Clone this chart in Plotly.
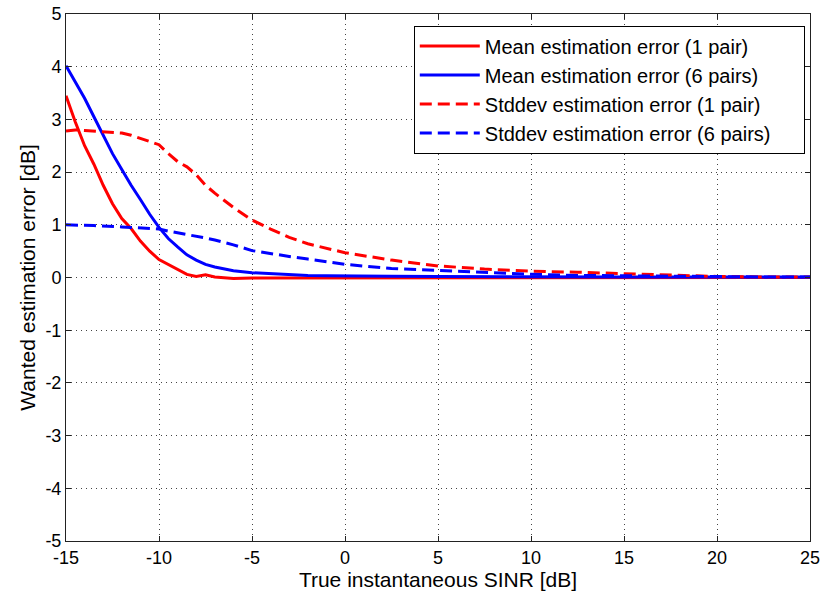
import plotly.graph_objects as go

sinr = [-15, -14.5, -14, -13.5, -13, -12.5, -12, -11.5, -11, -10.5, -10, -9.5, -9, -8.5, -8,
        -7.5, -7, -6, -5, -4, -3, -2, -1, 0, 2.5, 5, 7.5, 10, 12.5, 15, 17.5, 20, 22.5, 25]

mean_1pair = [3.45, 2.95, 2.5, 2.15, 1.75, 1.4, 1.12, 0.93, 0.69, 0.5, 0.34, 0.25, 0.15, 0.06, 0.02,
              0.05, 0.01, -0.02, -0.01, -0.01, 0.0, -0.01, 0.0, 0.0, 0.0, -0.01, 0.0, 0.0, -0.01, 0.0, 0.0, 0.0, 0.0, 0.0]
mean_6pairs = [4.02, 3.7, 3.4, 3.05, 2.7, 2.35, 2.05, 1.75, 1.48, 1.2, 0.95, 0.74, 0.58, 0.43, 0.33,
               0.25, 0.2, 0.13, 0.09, 0.07, 0.05, 0.04, 0.035, 0.03, 0.025, 0.02, 0.015, 0.01, 0.01, 0.01, 0.01, 0.01, 0.01, 0.01]
std_1pair = [2.78, 2.8, 2.79, 2.78, 2.77, 2.76, 2.74, 2.7, 2.64, 2.58, 2.52, 2.35, 2.2, 2.1, 1.95,
             1.75, 1.6, 1.33, 1.09, 0.92, 0.76, 0.64, 0.55, 0.47, 0.33, 0.22, 0.16, 0.12, 0.1, 0.07, 0.04, 0.02, 0.01, 0.01]
std_6pairs = [1.0, 1.0, 0.99, 0.985, 0.98, 0.97, 0.96, 0.95, 0.94, 0.93, 0.92, 0.88, 0.85, 0.82, 0.79,
              0.75, 0.71, 0.62, 0.51, 0.45, 0.4, 0.35, 0.3, 0.25, 0.17, 0.13, 0.09, 0.06, 0.04, 0.03, 0.02, 0.02, 0.01, 0.01]

series_names = ["Mean estimation error (1 pair)", "Mean estimation error (6 pairs)",
                "Stddev estimation error (1 pair)", "Stddev estimation error (6 pairs)"]
x_ticks = [-15, -10, -5, 0, 5, 10, 15, 20, 25]
y_ticks = [-5, -4, -3, -2, -1, 0, 1, 2, 3, 4, 5]

FONT = "Liberation Sans, Arial, Helvetica, sans-serif"
styles = [("#ff0000", "solid"), ("#0000ff", "solid"), ("#ff0000", "12px,6px"), ("#0000ff", "12px,6px")]
data = [mean_1pair, mean_6pairs, std_1pair, std_6pairs]
PAD = "\u00a0" * 5

fig = go.Figure()
for i, (name, ys, (col, dash)) in enumerate(zip(series_names, data, styles)):
    fig.add_trace(go.Scatter(x=sinr, y=ys, mode="lines", name=name + PAD, legendgroup=f"g{i}",
                             line=dict(color=col, width=3, dash=dash)))

axis_common = dict(
    showgrid=True, gridcolor="#444444", griddash="1px,4px", gridwidth=1,
    showline=True, linecolor="#222222", linewidth=1, mirror="ticks",
    ticks="inside", ticklen=5, tickcolor="#222222", zeroline=False,
    tickfont=dict(family=FONT, size=18, color="black"),
)
fig.update_xaxes(range=[-15, 25], tickvals=x_ticks, ticktext=[str(v) for v in x_ticks],
                 title=dict(text="True instantaneous SINR [dB]", font=dict(family=FONT, size=21, color="black"), standoff=2),
                 **axis_common)
fig.update_yaxes(range=[-5, 5], tickvals=y_ticks, ticktext=[str(v) for v in y_ticks],
                 title=dict(text="Wanted estimation error [dB]", font=dict(family=FONT, size=21, color="black"), standoff=4),
                 **axis_common)

fig.update_layout(
    width=825, height=595,
    margin=dict(l=66, r=15, t=14, b=54, autoexpand=False),
    plot_bgcolor="white", paper_bgcolor="white",
    font=dict(family=FONT, color="black"),
    legend=dict(x=0.993, y=0.978, xanchor="right", yanchor="top",
                bgcolor="white", bordercolor="black", borderwidth=1,
                font=dict(family=FONT, size=20, color="black"),
                itemwidth=60, tracegroupgap=0),
)

fig.write_html("out.html", config={"displayModeBar": False},
               post_script="document.body.style.margin='0px';")
